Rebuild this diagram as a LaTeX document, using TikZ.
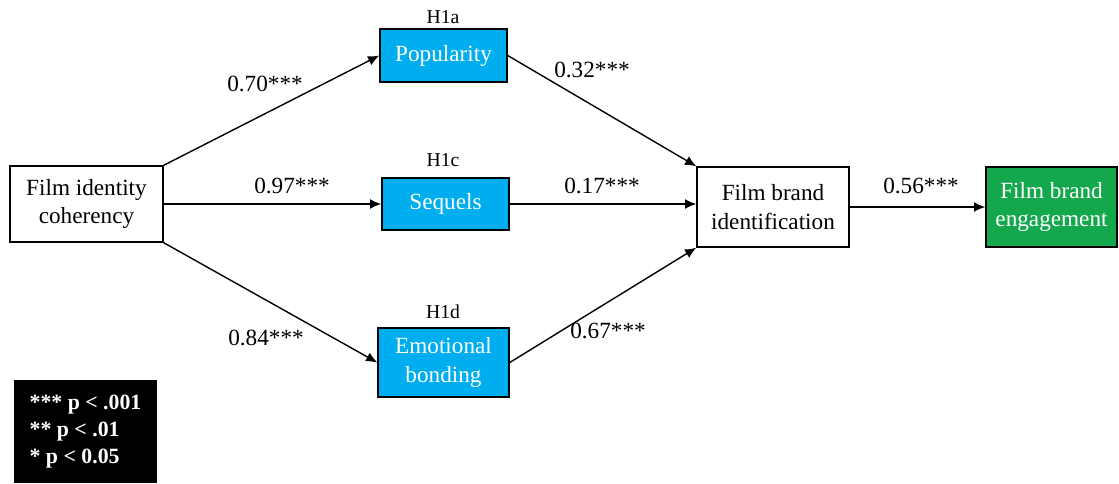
\documentclass[tikz,border=0pt]{standalone}
\usepackage{fontspec}
\setmainfont{Liberation Serif}
\usetikzlibrary{arrows.meta}
\definecolor{boxblue}{HTML}{00AEEF}
\definecolor{boxgreen}{HTML}{13A84C}

\begin{document}
\begin{tikzpicture}[x=0.025cm, y=-0.025cm, line width=1pt, >={Latex[length=8pt,width=7pt]},
		plainbox/.style={draw, fill=white, inner sep=0pt, align=center, font=\fontsize{16.5}{20}\selectfont},
		bluebox/.style={plainbox, fill=boxblue, text=white},
		greenbox/.style={plainbox, fill=boxgreen, text=white},
		coef/.style={font=\fontsize{16.5}{19}\selectfont},
		hyp/.style={font=\fontsize{14}{15}\selectfont}]
				\useasboundingbox (0,0) rectangle (1119,483);
				% constructs
				\node[plainbox, minimum width=153*0.025cm, minimum height=76*0.025cm] (fic) at (86.5,204) {Film identity\\coherency};
				\node[bluebox, minimum width=127*0.025cm, minimum height=53*0.025cm] (pop) at (443.5,55.5) {Popularity};
				\node[bluebox, minimum width=127*0.025cm, minimum height=52*0.025cm] (seq) at (445.5,204) {Sequels};
				\node[bluebox, minimum width=131*0.025cm, minimum height=69*0.025cm] (emo) at (443.5,362.5) {Emotional\\bonding};
				\node[plainbox, minimum width=152*0.025cm, minimum height=80*0.025cm] (fbi) at (773,207) {Film brand\\identification};
				\node[greenbox, minimum width=131*0.025cm, minimum height=80*0.025cm] (fbe) at (1051.5,207) {Film brand\\engagement};
				
				% hypotheses
				\node[hyp] (h1a) at (443,17) {H1a};
				\node[hyp] (h1c) at (443,160) {H1c};
				\node[hyp] (h1d) at (443,312) {H1d};
				
				% paths
				\draw[->] (fic.north east) -- (pop.west);
				\draw[->] (fic.east) -- (seq.west);
				\draw[->] (fic.south east) -- (emo.west);
				\draw[->] (pop.east) -- (fbi.north west);
				\draw[->] (seq.east) -- (seq.east -| fbi.west);
				\draw[->] (emo.east) -- (fbi.south west);
				\draw[->] (fbi.east) -- (fbe.west);
				
				% coefficients
				\node[coef] (c1) at (265,84) {0.70***};
				\node[coef] (c2) at (292,186) {0.97***};
				\node[coef] (c3) at (266,338) {0.84***};
				\node[coef] (c4) at (592,70) {0.32***};
				\node[coef] (c5) at (602,186) {0.17***};
				\node[coef] (c6) at (608,331) {0.67***};
				\node[coef] (c7) at (921,186) {0.56***};
				
				% significance levels
				\node[fill=black, text=white, inner sep=0pt, align=left, minimum width=143*0.025cm, minimum height=103*0.025cm,
					font=\bfseries\fontsize{15.5}{19}\selectfont] (legend) at (85.5,431.5) {*** p < .001\\** p < .01\\* p < 0.05};
			\end{tikzpicture}
\end{document}
